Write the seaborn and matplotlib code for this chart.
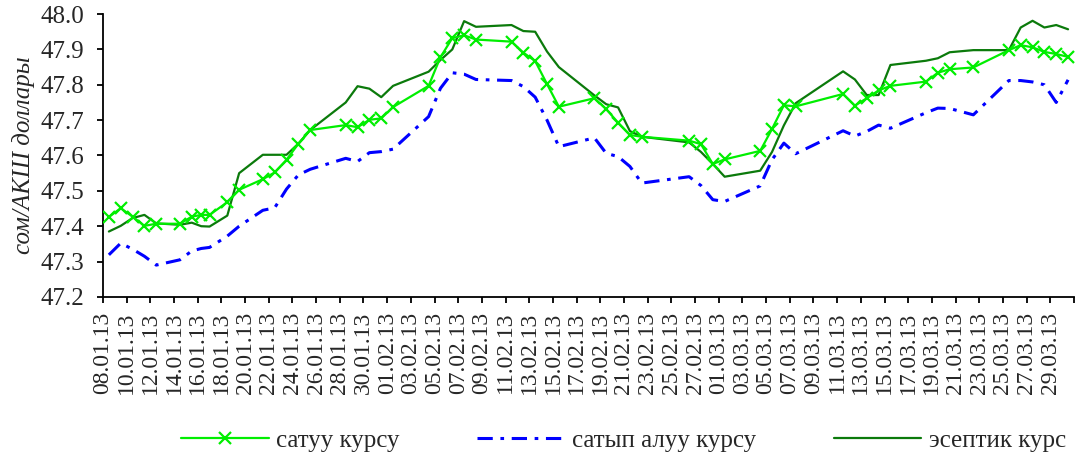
import matplotlib
matplotlib.use("Agg")
import matplotlib.pyplot as plt
import numpy as np
import pandas as pd
import seaborn as sns

# days counted from 08.01.13, shared by all three series
days = [0, 1, 2, 3, 4, 6, 7, 7.8, 8.5, 10, 11, 13, 14, 15, 16, 17, 20, 21, 22, 23, 24,
        27, 28, 29, 30, 31, 34, 35, 36, 37, 38, 41, 42, 43, 44, 45, 49, 50, 51, 52,
        55, 56, 57, 58, 62, 63, 64, 65, 66, 69, 70, 71, 73, 76, 77, 78, 79, 80, 81]

sell = [47.426, 47.451, 47.427, 47.401, 47.407, 47.407, 47.427, 47.432, 47.432, 47.468, 47.503,
        47.533, 47.552, 47.588, 47.633, 47.672, 47.686, 47.680, 47.701, 47.705, 47.737,
        47.797, 47.878, 47.932, 47.940, 47.928, 47.922, 47.891, 47.867, 47.802, 47.738,
        47.762, 47.731, 47.693, 47.658, 47.653, 47.642, 47.632, 47.576, 47.589,
        47.613, 47.675, 47.742, 47.739, 47.774, 47.741, 47.762, 47.784, 47.797,
        47.809, 47.834, 47.844, 47.849, 47.898, 47.912, 47.906, 47.893, 47.887, 47.879]

buy = [47.319, 47.352, 47.335, 47.315, 47.290, 47.305, 47.330, 47.337, 47.340, 47.372, 47.400,
       47.445, 47.452, 47.505, 47.545, 47.561, 47.592, 47.583, 47.608, 47.611, 47.618,
       47.710, 47.790, 47.834, 47.830, 47.815, 47.812, 47.795, 47.765, 47.700, 47.625,
       47.650, 47.606, 47.597, 47.569, 47.522, 47.540, 47.515, 47.475, 47.470,
       47.514, 47.588, 47.635, 47.605, 47.670, 47.655, 47.668, 47.686, 47.677,
       47.721, 47.734, 47.733, 47.715, 47.812, 47.812, 47.808, 47.800, 47.750, 47.814]

official = [47.385, 47.401, 47.423, 47.432, 47.408, 47.404, 47.410, 47.400, 47.399, 47.430, 47.550,
            47.602, 47.602, 47.602, 47.633, 47.672, 47.750, 47.796, 47.789, 47.765, 47.797,
            47.837, 47.870, 47.900, 47.980, 47.964, 47.969, 47.952, 47.950, 47.894, 47.850,
            47.770, 47.745, 47.736, 47.669, 47.653, 47.637, 47.610, 47.576, 47.540,
            47.557, 47.610, 47.685, 47.748, 47.838, 47.815, 47.771, 47.771, 47.856,
            47.868, 47.875, 47.892, 47.898, 47.898, 47.962, 47.981, 47.962, 47.969, 47.957]

series_names = ["сатуу курсу", "сатып алуу курсу", "эсептик курс"]
tick_labels = list(pd.date_range("2013-01-08", "2013-03-29", freq="2D").strftime("%d.%m.%y"))
y_ticks = [47.2, 47.3, 47.4, 47.5, 47.6, 47.7, 47.8, 47.9, 48.0]

sns.set_style("ticks")
plt.rcParams["font.family"] = ["Liberation Serif", "DejaVu Serif"]

df = pd.DataFrame({"day": np.array(days) + 0.5, "sell": sell, "buy": buy, "official": official})

fig = plt.figure(figsize=(10.77, 4.54), dpi=100)
ax = fig.add_axes([0.0956, 0.346, 0.9016, 0.623])

sns.lineplot(data=df, x="day", y="buy", ax=ax, color="#0000ff", lw=2.2,
             linestyle=(0, (5, 2.5, 1.2, 2.5)), label=series_names[1], zorder=2)
sns.lineplot(data=df, x="day", y="official", ax=ax, color="#0b7a0b", lw=1.6,
             label=series_names[2], zorder=3)
sns.lineplot(data=df, x="day", y="sell", ax=ax, color="#00ee00", lw=1.6, marker="x",
             markersize=9, markeredgewidth=1.6, markeredgecolor="#00ee00",
             label=series_names[0], zorder=4)

ax.set_xlim(0, 82)
ax.set_ylim(47.2, 48.0)
ax.set_xticks(np.arange(0, 83, 2))
ax.set_xticklabels(tick_labels + [""], rotation=90, fontsize=17)
ax.set_yticks(y_ticks)
ax.set_yticklabels([f"{v:.1f}" for v in y_ticks], fontsize=18)
ax.tick_params(axis="both", direction="out", length=4.5, width=1.3, color="black")
ax.tick_params(axis="x", pad=6)
ax.tick_params(axis="y", pad=9)
ax.set_xlabel("")
ax.set_ylabel("сом/АКШ доллары", fontsize=18, style="italic", labelpad=4)
for s in ["top", "right"]:
    ax.spines[s].set_visible(False)
for s in ["left", "bottom"]:
    ax.spines[s].set_linewidth(1.3)
    ax.spines[s].set_color("black")

handles, labels = ax.get_legend_handles_labels()
order = [labels.index(n) for n in series_names]
ax.get_legend().remove()
fig.legend([handles[i] for i in order], [labels[i] for i in order], loc="lower center",
           bbox_to_anchor=(0.579, -0.045), ncol=3, frameon=False, fontsize=18,
           handlelength=3.5, columnspacing=3.1, handletextpad=0.3)

fig.savefig("out.png", dpi=100)
